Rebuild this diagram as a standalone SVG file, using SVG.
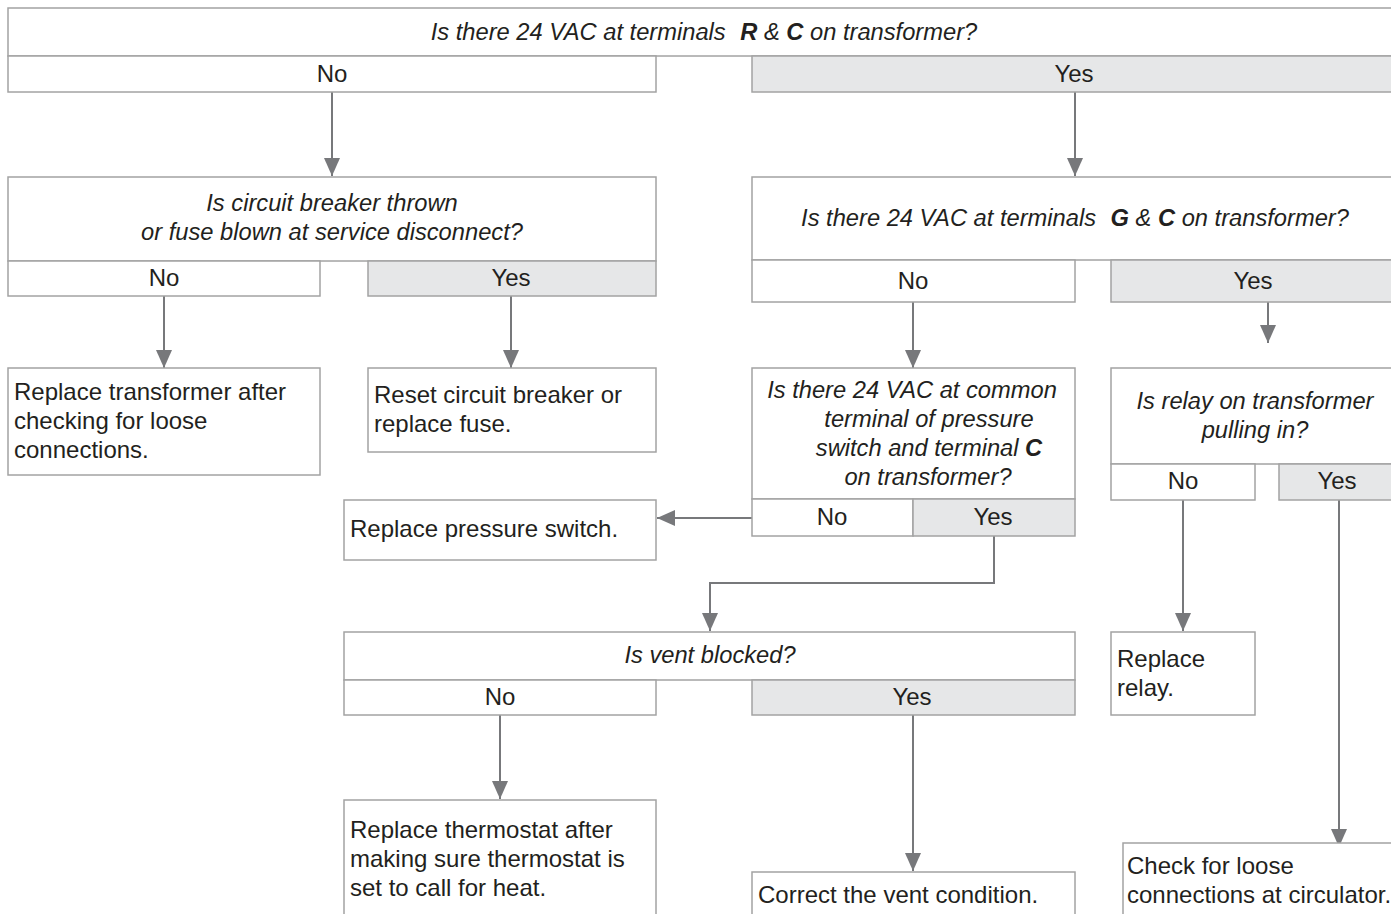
<svg xmlns="http://www.w3.org/2000/svg" width="1391" height="914" viewBox="0 0 1391 914">
<defs>
<style>
.box{fill:#fff;stroke:#a3a3a3;stroke-width:1.5}
.yes{fill:#e6e7e8;stroke:#a3a3a3;stroke-width:1.5}
text{font-family:"Liberation Sans",Arial,sans-serif;font-size:24px;fill:#231f20}
.q{font-style:italic;text-anchor:middle;font-size:23.7px}
.c{text-anchor:middle}
.b{font-weight:bold}
.conn{fill:none;stroke:#77787b;stroke-width:2}
</style>
<marker id="ah" markerUnits="userSpaceOnUse" markerWidth="18" markerHeight="16" refX="18" refY="8" orient="auto" viewBox="0 0 18 16">
<path d="M0,0 L18,8 L0,16 z" fill="#77787b"/>
</marker>
</defs>
<rect width="1391" height="914" fill="#fff"/>

<g id="connectors">
<path class="conn" d="M332,92 V176" marker-end="url(#ah)"/>
<path class="conn" d="M1075,92 V176" marker-end="url(#ah)"/>
<path class="conn" d="M164,296 V368" marker-end="url(#ah)"/>
<path class="conn" d="M511,296 V368" marker-end="url(#ah)"/>
<path class="conn" d="M913,302 V368" marker-end="url(#ah)"/>
<path class="conn" d="M1268,302 V343" marker-end="url(#ah)"/>
<path class="conn" d="M752,518 H657" marker-end="url(#ah)"/>
<path class="conn" d="M994,536 V583 H710 V631" marker-end="url(#ah)"/>
<path class="conn" d="M1183,500 V631" marker-end="url(#ah)"/>
<path class="conn" d="M1339,500 V847" marker-end="url(#ah)"/>
<path class="conn" d="M500,715 V799" marker-end="url(#ah)"/>
<path class="conn" d="M913,715 V871" marker-end="url(#ah)"/>
</g>

<g id="q1">
<rect class="box" x="8" y="8" width="1390" height="48"/>
<text class="q" x="704" y="40">Is there 24 VAC at terminals <tspan class="b" dx="8">R</tspan> &amp; <tspan class="b">C</tspan> on transformer?</text>
</g>
<g id="q1-no">
<rect class="box" x="8" y="56" width="648" height="36"/>
<text class="c" x="332" y="82">No</text>
</g>
<g id="q1-yes">
<rect class="yes" x="752" y="56" width="646" height="36"/>
<text class="c" x="1074" y="82">Yes</text>
</g>

<g id="q2">
<rect class="box" x="8" y="177" width="648" height="84"/>
<text class="q" x="332" y="211">Is circuit breaker thrown</text>
<text class="q" x="332" y="240">or fuse blown at service disconnect?</text>
</g>
<g id="q2-no">
<rect class="box" x="8" y="261" width="312" height="35"/>
<text class="c" x="164" y="286">No</text>
</g>
<g id="q2-yes">
<rect class="yes" x="368" y="261" width="288" height="35"/>
<text class="c" x="511" y="286">Yes</text>
</g>

<g id="a-transformer">
<rect class="box" x="8" y="368" width="312" height="107"/>
<text x="14" y="400">Replace transformer after</text>
<text x="14" y="429">checking for loose</text>
<text x="14" y="458">connections.</text>
</g>
<g id="a-reset">
<rect class="box" x="368" y="368" width="288" height="84"/>
<text x="374" y="403">Reset circuit breaker or</text>
<text x="374" y="432">replace fuse.</text>
</g>

<g id="q3">
<rect class="box" x="752" y="177" width="646" height="83"/>
<text class="q" x="1075" y="226">Is there 24 VAC at terminals <tspan class="b" dx="8">G</tspan> &amp; <tspan class="b">C</tspan> on transformer?</text>
</g>
<g id="q3-no">
<rect class="box" x="752" y="260" width="323" height="42"/>
<text class="c" x="913" y="289">No</text>
</g>
<g id="q3-yes">
<rect class="yes" x="1111" y="260" width="287" height="42"/>
<text class="c" x="1253" y="289">Yes</text>
</g>

<g id="q4">
<rect class="box" x="752" y="368" width="323" height="131"/>
<text class="q" x="912" y="398">Is there 24 VAC at common</text>
<text class="q" x="929" y="427">terminal of pressure</text>
<text class="q" x="929" y="456">switch and terminal <tspan class="b">C</tspan></text>
<text class="q" x="928" y="485">on transformer?</text>
</g>
<g id="q4-no">
<rect class="box" x="752" y="499" width="161" height="37"/>
<text class="c" x="832" y="525">No</text>
</g>
<g id="q4-yes">
<rect class="yes" x="913" y="499" width="162" height="37"/>
<text class="c" x="993" y="525">Yes</text>
</g>

<g id="a-pressure">
<rect class="box" x="344" y="500" width="312" height="60"/>
<text x="350" y="537">Replace pressure switch.</text>
</g>

<g id="q5">
<rect class="box" x="1111" y="368" width="287" height="96"/>
<text class="q" x="1255" y="409">Is relay on transformer</text>
<text class="q" x="1255" y="438">pulling in?</text>
</g>
<g id="q5-no">
<rect class="box" x="1111" y="464" width="144" height="36"/>
<text class="c" x="1183" y="489">No</text>
</g>
<g id="q5-yes">
<rect class="yes" x="1279" y="464" width="119" height="36"/>
<text class="c" x="1337" y="489">Yes</text>
</g>

<g id="a-relay">
<rect class="box" x="1111" y="632" width="144" height="83"/>
<text x="1117" y="667">Replace</text>
<text x="1117" y="696">relay.</text>
</g>

<g id="q6">
<rect class="box" x="344" y="632" width="731" height="48"/>
<text class="q" x="710" y="663">Is vent blocked?</text>
</g>
<g id="q6-no">
<rect class="box" x="344" y="680" width="312" height="35"/>
<text class="c" x="500" y="705">No</text>
</g>
<g id="q6-yes">
<rect class="yes" x="752" y="680" width="323" height="35"/>
<text class="c" x="912" y="705">Yes</text>
</g>

<g id="a-thermostat">
<rect class="box" x="344" y="800" width="312" height="130"/>
<text x="350" y="838">Replace thermostat after</text>
<text x="350" y="867">making sure thermostat is</text>
<text x="350" y="896">set to call for heat.</text>
</g>
<g id="a-vent">
<rect class="box" x="752" y="872" width="323" height="60"/>
<text x="758" y="903">Correct the vent condition.</text>
</g>
<g id="a-circulator">
<rect class="box" x="1123" y="843" width="280" height="90"/>
<text x="1127" y="874">Check for loose</text>
<text x="1127" y="903">connections at circulator.</text>
</g>
</svg>
